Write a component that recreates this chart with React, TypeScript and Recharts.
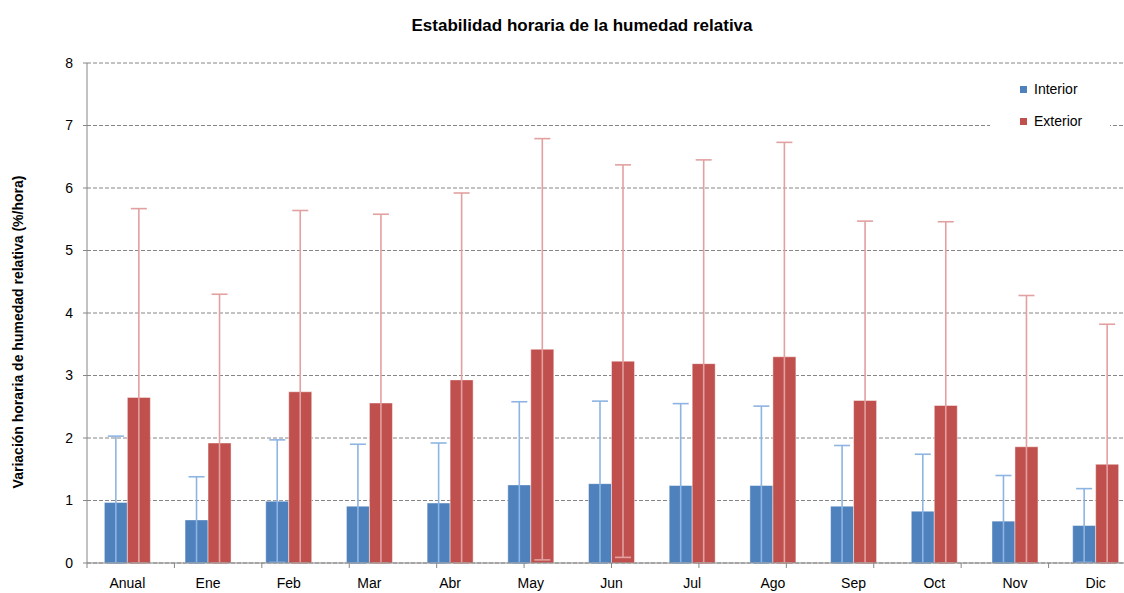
import { BarChart, Bar, XAxis, YAxis, CartesianGrid, Legend, ErrorBar } from "recharts";

const FONT = "'Liberation Sans', Arial, sans-serif";
const GRAY = "#868686";

const categories = ["Anual", "Ene", "Feb", "Mar", "Abr", "May", "Jun", "Jul", "Ago", "Sep", "Oct", "Nov", "Dic"];
const interior = [0.97, 0.69, 0.99, 0.91, 0.96, 1.25, 1.27, 1.24, 1.24, 0.91, 0.83, 0.67, 0.6];
const interiorErr = [1.06, 0.69, 0.98, 0.99, 0.96, 1.33, 1.32, 1.31, 1.27, 0.97, 0.91, 0.73, 0.59];
const exterior = [2.65, 1.92, 2.74, 2.56, 2.93, 3.42, 3.23, 3.19, 3.3, 2.6, 2.52, 1.86, 1.58];
const exteriorErr = [3.02, 2.38, 2.9, 3.02, 2.99, 3.37, 3.14, 3.26, 3.43, 2.87, 2.94, 2.42, 2.24];
const yTicks = [0, 1, 2, 3, 4, 5, 6, 7, 8];
const edgeTicks = categories.map((_, i) => i).concat(categories.length);
const seriesOrder = ["interior", "exterior"];

// lower error is clipped at zero, like the original plot area
const data = categories.map((name, i) => ({
    name,
    interior: interior[i],
    exterior: exterior[i],
    interiorErr: [Math.min(interiorErr[i], interior[i]), interiorErr[i]],
    exteriorErr: [Math.min(exteriorErr[i], exterior[i]), exteriorErr[i]],
}));

function LegendBox({ payload }: any) {
    return (
        <div
            style={{
                background: "#fff",
                width: 120,
                height: 66,
                paddingTop: 1,
                boxSizing: "border-box",
                fontFamily: FONT,
            }}
        >
            {(payload || []).map((p: any) => (
                <div
                    key={p.value}
                    style={{ display: "flex", alignItems: "center", height: 32, paddingLeft: 30 }}
                >
                    <span style={{ width: 7, height: 7, background: p.color, marginRight: 7 }} />
                    <span style={{ fontSize: 14, color: "#000" }}>{p.value}</span>
                </div>
            ))}
        </div>
    );
}

export default function App() {
    return (
        <div
            style={{
                position: "absolute",
                left: 0,
                top: 0,
                width: 1124,
                height: 593,
                overflow: "hidden",
                background: "#fff",
                fontFamily: FONT,
            }}
        >
            <div
                style={{
                    position: "absolute",
                    left: 382,
                    top: 17,
                    width: 400,
                    textAlign: "center",
                    fontSize: 17,
                    lineHeight: "17px",
                    fontWeight: "bold",
                    color: "#000",
                    zIndex: 2,
                }}
            >
                Estabilidad horaria de la humedad relativa
            </div>
            <BarChart
                width={1140}
                height={593}
                data={data}
                margin={{ top: 63, right: 4, bottom: 0, left: 0 }}
                barCategoryGap="21.5%"
                barGap={0}
            >
                <CartesianGrid
                    xAxisId="b"
                    vertical={false}
                    stroke={GRAY}
                    strokeDasharray="4 2"
                />
                {/* boundary tick marks between categories */}
                <XAxis
                    xAxisId="a"
                    type="number"
                    domain={[0, categories.length]}
                    ticks={edgeTicks}
                    interval={0}
                    allowDataOverflow
                    tick={{ fontSize: 1, fill: "none" }}
                    tickFormatter={() => ""}
                    tickSize={5}
                    tickLine={{ stroke: GRAY }}
                    axisLine={{ stroke: GRAY }}
                    height={5}
                />
                <XAxis
                    xAxisId="b"
                    dataKey="name"
                    height={25}
                    interval={0}
                    axisLine={false}
                    tickLine={false}
                    tickSize={0}
                    tickMargin={10}
                    tick={{ fontSize: 14, fill: "#000", fontFamily: FONT }}
                />
                <YAxis
                    domain={[0, 8]}
                    ticks={yTicks}
                    interval={0}
                    width={87}
                    tickSize={4}
                    tickMargin={10}
                    axisLine={{ stroke: GRAY }}
                    tickLine={{ stroke: GRAY }}
                    tick={{ fontSize: 14, fill: "#000", fontFamily: FONT }}
                    label={{
                        content: () => (
                            <text
                                x={23}
                                y={332}
                                transform="rotate(-90 23 332)"
                                textAnchor="middle"
                                fontSize={14}
                                fontWeight="bold"
                                fontFamily={FONT}
                                fill="#000"
                            >
                                Variación horaria de humedad relativa (%/hora)
                            </text>
                        ),
                    }}
                />
                <Legend
                    layout="horizontal"
                    verticalAlign="middle"
                    align="center"
                    itemSorter={(item: any) => seriesOrder.indexOf(item.dataKey)}
                    content={<LegendBox />}
                    wrapperStyle={{ left: 990, top: 72, width: 120, height: 66 }}
                />
                <Bar
                    xAxisId="b"
                    dataKey="interior"
                    name="Interior"
                    fill="#4F81BD"
                    stroke="#ffffff"
                    strokeOpacity={0.45}
                    strokeWidth={1}
                    isAnimationActive={false}
                >
                    <ErrorBar dataKey="interiorErr" direction="y" width={8} stroke="#8DB4E2" strokeWidth={1.6} />
                </Bar>
                <Bar
                    xAxisId="b"
                    dataKey="exterior"
                    name="Exterior"
                    fill="#C0504D"
                    stroke="#ffffff"
                    strokeOpacity={0.45}
                    strokeWidth={1}
                    isAnimationActive={false}
                >
                    <ErrorBar dataKey="exteriorErr" direction="y" width={8} stroke="#E2A0A0" strokeWidth={1.6} />
                </Bar>
            </BarChart>
        </div>
    );
}
